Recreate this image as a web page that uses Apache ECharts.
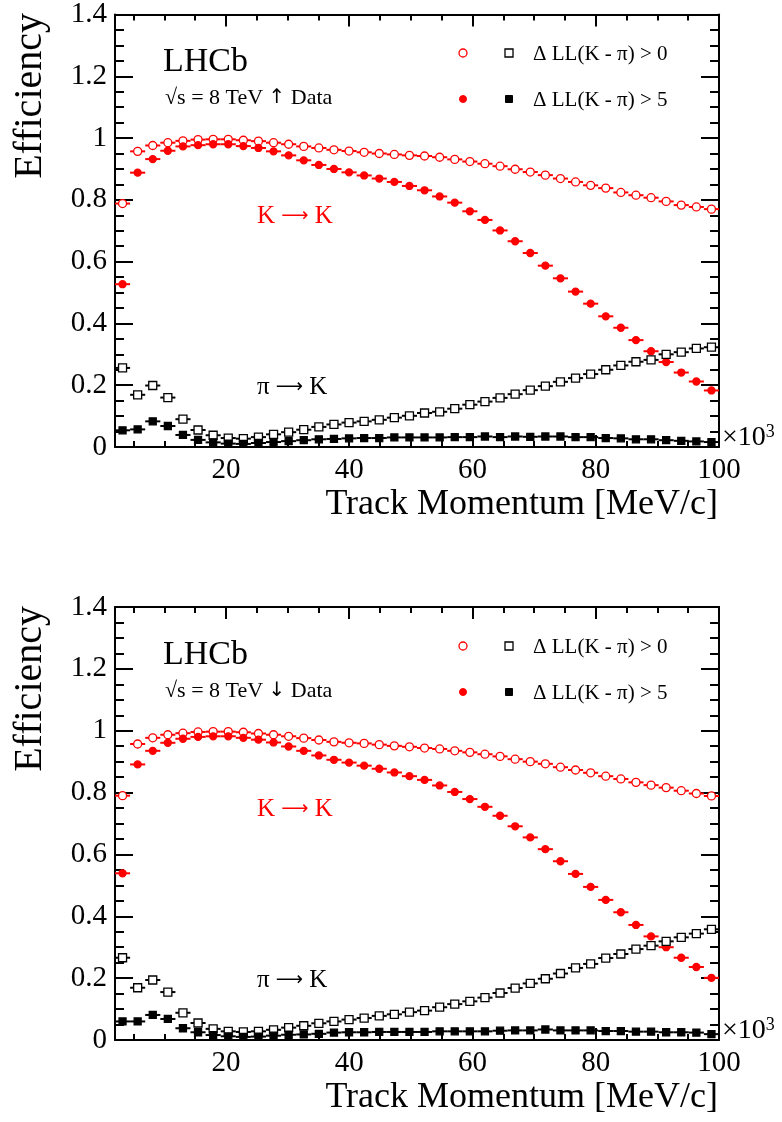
<!DOCTYPE html>
<html><head><meta charset="utf-8">
<script src="https://cdn.jsdelivr.net/npm/echarts@6/dist/echarts.min.js"></script>
<style>html,body{margin:0;padding:0;background:#fff}#c{width:782px;height:1122px}</style>
</head><body><div id="c"></div>
<script>
// Track momentum bin centres (x10^3 MeV/c), 40 bins from 2 to 100
const momentumBins = [3.225, 5.675, 8.125, 10.575, 13.025, 15.475, 17.925, 20.375, 22.825, 25.275,
  27.725, 30.175, 32.625, 35.075, 37.525, 39.975, 42.425, 44.875, 47.325, 49.775,
  52.225, 54.675, 57.125, 59.575, 62.025, 64.475, 66.925, 69.375, 71.825, 74.275,
  76.725, 79.175, 81.625, 84.075, 86.525, 88.975, 91.425, 93.875, 96.325, 98.775];
const binHalfWidth = 1.225;
const xMajorTicks = [20, 40, 60, 80, 100];
const xMinorTicks = [5, 10, 15, 25, 30, 35, 45, 50, 55, 65, 70, 75, 85, 90, 95];

// Magnet up (top panel)
const upKK0 = [0.788, 0.957, 0.976, 0.985, 0.991, 0.995, 0.996, 0.996, 0.993, 0.990,
  0.985, 0.980, 0.973, 0.968, 0.962, 0.958, 0.954, 0.950, 0.947, 0.944,
  0.942, 0.938, 0.931, 0.924, 0.917, 0.909, 0.899, 0.890, 0.880, 0.869,
  0.858, 0.847, 0.838, 0.824, 0.815, 0.807, 0.795, 0.783, 0.777, 0.770];
const upKK5 = [0.527, 0.888, 0.932, 0.959, 0.973, 0.977, 0.980, 0.980, 0.974, 0.968,
  0.957, 0.944, 0.928, 0.913, 0.900, 0.889, 0.879, 0.869, 0.858, 0.845,
  0.831, 0.811, 0.791, 0.763, 0.735, 0.701, 0.666, 0.628, 0.587, 0.546,
  0.503, 0.464, 0.423, 0.386, 0.346, 0.310, 0.275, 0.241, 0.212, 0.183];
const upPiK0 = [0.256, 0.169, 0.199, 0.160, 0.090, 0.055, 0.038, 0.029, 0.027, 0.032,
  0.041, 0.048, 0.056, 0.065, 0.073, 0.079, 0.083, 0.088, 0.095, 0.101,
  0.110, 0.114, 0.124, 0.137, 0.147, 0.159, 0.171, 0.184, 0.197, 0.211,
  0.223, 0.236, 0.250, 0.264, 0.276, 0.282, 0.300, 0.307, 0.319, 0.323];
const upPiK5 = [0.054, 0.057, 0.083, 0.068, 0.039, 0.023, 0.015, 0.011, 0.010, 0.013,
  0.016, 0.019, 0.022, 0.025, 0.026, 0.028, 0.029, 0.029, 0.031, 0.031,
  0.031, 0.031, 0.032, 0.032, 0.034, 0.032, 0.034, 0.033, 0.034, 0.034,
  0.032, 0.032, 0.029, 0.028, 0.025, 0.025, 0.022, 0.020, 0.018, 0.016];

// Magnet down (bottom panel)
const downKK0 = [0.790, 0.957, 0.977, 0.987, 0.992, 0.996, 0.997, 0.997, 0.995, 0.991,
  0.987, 0.982, 0.976, 0.970, 0.964, 0.961, 0.959, 0.955, 0.951, 0.948,
  0.944, 0.941, 0.935, 0.930, 0.924, 0.917, 0.908, 0.900, 0.893, 0.882,
  0.873, 0.864, 0.853, 0.844, 0.833, 0.824, 0.816, 0.806, 0.797, 0.789];
const downKK5 = [0.539, 0.891, 0.935, 0.961, 0.974, 0.980, 0.982, 0.982, 0.977, 0.971,
  0.962, 0.949, 0.935, 0.920, 0.906, 0.897, 0.887, 0.877, 0.865, 0.853,
  0.841, 0.823, 0.802, 0.779, 0.754, 0.725, 0.691, 0.655, 0.617, 0.578,
  0.537, 0.495, 0.453, 0.413, 0.372, 0.335, 0.300, 0.266, 0.236, 0.201];
const downPiK0 = [0.266, 0.169, 0.194, 0.155, 0.088, 0.055, 0.036, 0.028, 0.026, 0.028,
  0.033, 0.040, 0.046, 0.054, 0.060, 0.066, 0.071, 0.078, 0.083, 0.090,
  0.095, 0.106, 0.116, 0.125, 0.137, 0.152, 0.168, 0.183, 0.198, 0.215,
  0.233, 0.246, 0.265, 0.278, 0.294, 0.305, 0.319, 0.332, 0.344, 0.358];
const downPiK5 = [0.060, 0.060, 0.081, 0.068, 0.038, 0.025, 0.016, 0.012, 0.010, 0.011,
  0.014, 0.017, 0.018, 0.020, 0.024, 0.025, 0.025, 0.026, 0.026, 0.026,
  0.026, 0.028, 0.028, 0.028, 0.028, 0.030, 0.031, 0.031, 0.034, 0.031,
  0.031, 0.031, 0.029, 0.029, 0.027, 0.027, 0.025, 0.025, 0.024, 0.019];

const FONT = '"Liberation Serif", "DejaVu Serif", serif';
const SYM = '"DejaVu Sans", sans-serif';
const RED = '#ff0000', BLACK = '#000000';

const chart = echarts.init(document.getElementById('c'), null, {renderer: 'canvas'});

const grids = [
  {left: 115, top: 14, width: 604, height: 433},
  {left: 115, top: 607, width: 604, height: 433}
];

const xAxes = [], yAxes = [];
grids.forEach((g, gi) => {
  const base = {type: 'value', gridIndex: gi, min: 2, max: 100, splitLine: {show: false}};
  xAxes.push(Object.assign({}, base, {
    position: 'bottom',
    axisLine: {show: true, onZero: false, lineStyle: {color: BLACK, width: 2}},
    axisTick: {show: true, inside: true, length: 12, customValues: xMajorTicks, lineStyle: {color: BLACK, width: 2}},
    axisLabel: {show: true, customValues: xMajorTicks, fontFamily: FONT, fontSize: 29, color: BLACK, margin: 9}
  }));
  xAxes.push(Object.assign({}, base, {
    position: 'bottom',
    axisLine: {show: false, onZero: false},
    axisTick: {show: true, inside: true, length: 6, customValues: xMinorTicks, lineStyle: {color: BLACK, width: 2}},
    axisLabel: {show: false}
  }));
  xAxes.push(Object.assign({}, base, {
    position: 'top',
    axisLine: {show: true, onZero: false, lineStyle: {color: BLACK, width: 2}},
    axisTick: {show: true, inside: true, length: 12, customValues: xMajorTicks, lineStyle: {color: BLACK, width: 2}},
    axisLabel: {show: false}
  }));
  xAxes.push(Object.assign({}, base, {
    position: 'top',
    axisLine: {show: false, onZero: false},
    axisTick: {show: true, inside: true, length: 6, customValues: xMinorTicks, lineStyle: {color: BLACK, width: 2}},
    axisLabel: {show: false}
  }));
  const ybase = {type: 'value', gridIndex: gi, min: 0, max: 1.4, interval: 0.2, splitLine: {show: false},
    axisLine: {show: true, onZero: false, lineStyle: {color: BLACK, width: 2}},
    axisTick: {show: true, inside: true, length: 18, lineStyle: {color: BLACK, width: 2}},
    minorTick: {show: true, splitNumber: 4, length: 9, lineStyle: {color: BLACK, width: 2}},
    minorSplitLine: {show: false}};
  yAxes.push(Object.assign({}, ybase, {
    position: 'left',
    axisLabel: {show: true, fontFamily: FONT, fontSize: 29, color: BLACK, margin: 8}
  }));
  yAxes.push(Object.assign({}, ybase, {
    position: 'right',
    axisLabel: {show: false}
  }));
});

function toData(vals) { return vals.map((v, i) => [momentumBins[i], v]); }

function errSeries(vals, color, gi) {
  return {
    type: 'custom', xAxisIndex: gi * 4, yAxisIndex: gi * 2, z: 2, silent: true,
    data: toData(vals),
    renderItem: (params, api) => {
      const x = api.value(0), y = api.value(1);
      const p1 = api.coord([x - binHalfWidth, y]);
      const p2 = api.coord([x + binHalfWidth, y]);
      return {type: 'line', shape: {x1: p1[0], y1: p1[1], x2: p2[0], y2: p2[1]},
        style: {stroke: color, lineWidth: 2}};
    }
  };
}
function markSeries(name, vals, symbol, size, fill, stroke, gi) {
  return {
    type: 'scatter', name: name, xAxisIndex: gi * 4, yAxisIndex: gi * 2, z: 3, silent: true,
    data: toData(vals), symbol: symbol, symbolSize: size,
    itemStyle: {color: fill, borderColor: stroke, borderWidth: 1.3, opacity: 1}
  };
}

const panels = [
  {kk0: upKK0, kk5: upKK5, pk0: upPiK0, pk5: upPiK5},
  {kk0: downKK0, kk5: downKK5, pk0: downPiK0, pk5: downPiK5}
];
const series = [];
panels.forEach((p, gi) => {
  series.push(errSeries(p.kk0, RED, gi));
  series.push(errSeries(p.kk5, RED, gi));
  series.push(errSeries(p.pk0, BLACK, gi));
  series.push(errSeries(p.pk5, BLACK, gi));
  series.push(markSeries('K→K ΔLL>0', p.kk0, 'circle', 8, '#ffffff', RED, gi));
  series.push(markSeries('K→K ΔLL>5', p.kk5, 'circle', 7, RED, RED, gi));
  series.push(markSeries('π→K ΔLL>0', p.pk0, 'rect', 8, '#ffffff', BLACK, gi));
  series.push(markSeries('π→K ΔLL>5', p.pk5, 'rect', 7, BLACK, BLACK, gi));
});

const graphics = [];
const arrows = ['↑', '↓'];
[0, 593].forEach((oy, k) => {
  const t = (x, y, text, size, color, extra) => graphics.push(Object.assign({
    type: 'text', x: x, y: y + oy, silent: true,
    style: Object.assign({text: text, fontFamily: FONT, fontSize: size, fill: color || BLACK,
      align: 'left', verticalAlign: 'middle'}, (extra && extra.style) || {})
  }, extra && extra.el || {}));
  t(163, 62, 'LHCb', 34);
  t(165, 98, '√s = 8 TeV {a|' + arrows[k] + '} Data', 22, BLACK,
    {style: {rich: {a: {fontFamily: SYM, fontSize: 20, fill: BLACK}}}});
  t(533, 54, 'Δ LL(K - π) > 0', 21);
  t(533, 100, 'Δ LL(K - π) > 5', 21);
  t(257, 216, 'K {a|⟶} K', 25, RED, {style: {rich: {a: {fontFamily: SYM, fontSize: 19, fill: RED}}}});
  t(257, 387, 'π {a|⟶} K', 25, BLACK, {style: {rich: {a: {fontFamily: SYM, fontSize: 19, fill: BLACK}}}});
  t(30, 13, 'Efficiency', 40, BLACK, {el: {rotation: Math.PI / 2}, style: {align: 'right'}});
  t(718, 505, 'Track Momentum [MeV/c]', 36, BLACK, {style: {align: 'right'}});
  graphics.push({
    type: 'text', x: 722, y: 438 + oy, silent: true,
    style: {text: '×10{s|3}', fontFamily: FONT, fontSize: 28, fill: BLACK, verticalAlign: 'middle',
      rich: {s: {fontFamily: FONT, fontSize: 18, fill: BLACK, verticalAlign: 'top', padding: [0, 0, 12, 0]}}}
  });
  graphics.push({type: 'circle', silent: true, shape: {cx: 463, cy: 53 + oy, r: 4},
    style: {fill: '#fff', stroke: RED, lineWidth: 1.3}});
  graphics.push({type: 'rect', silent: true, shape: {x: 505, y: 49 + oy, width: 8, height: 8},
    style: {fill: '#fff', stroke: BLACK, lineWidth: 1.3}});
  graphics.push({type: 'circle', silent: true, shape: {cx: 463, cy: 99 + oy, r: 3.5},
    style: {fill: RED, stroke: RED, lineWidth: 1}});
  graphics.push({type: 'rect', silent: true, shape: {x: 505.5, y: 95.5 + oy, width: 7, height: 7},
    style: {fill: BLACK, stroke: BLACK, lineWidth: 1}});
});

chart.setOption({
  animation: false,
  backgroundColor: '#ffffff',
  grid: grids,
  xAxis: xAxes,
  yAxis: yAxes,
  series: series,
  graphic: graphics
});
</script>
</body></html>
